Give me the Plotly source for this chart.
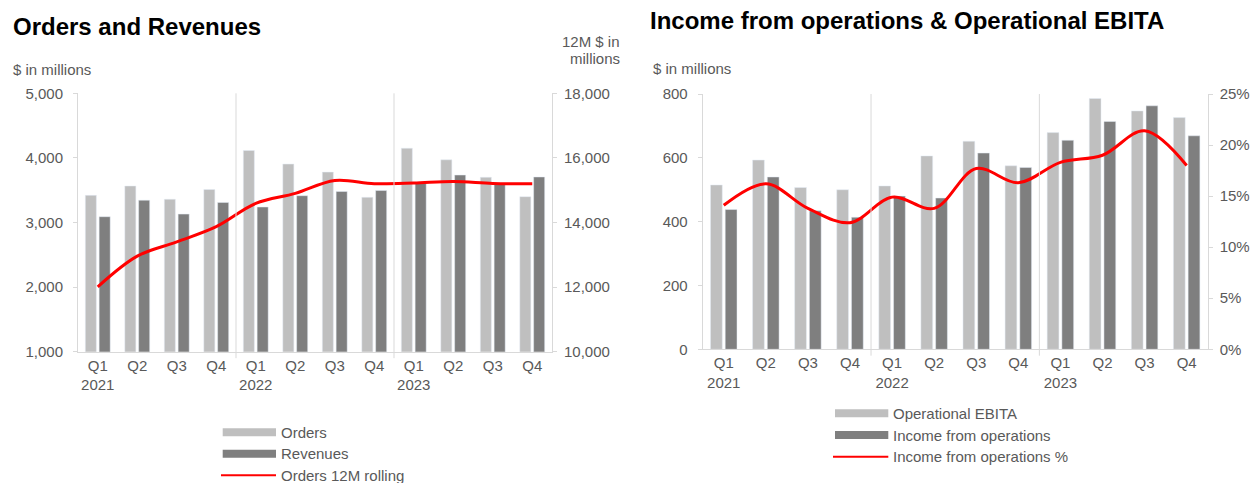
import plotly.graph_objects as go

# ---- data ($ in millions) ----
periods = ["2021 Q1", "2021 Q2", "2021 Q3", "2021 Q4",
           "2022 Q1", "2022 Q2", "2022 Q3", "2022 Q4",
           "2023 Q1", "2023 Q2", "2023 Q3", "2023 Q4"]
tick_labels = ["Q1<br>2021", "Q2", "Q3", "Q4",
               "Q1<br>2022", "Q2", "Q3", "Q4",
               "Q1<br>2023", "Q2", "Q3", "Q4"]

orders = [3420, 3565, 3360, 3510, 4115, 3905, 3780, 3390, 4150, 3970, 3700, 3400]
revenues = [3090, 3345, 3130, 3310, 3240, 3415, 3480, 3495, 3610, 3735, 3610, 3705]
orders_12m_rolling = [12010, 12960, 13400, 13870, 14590, 14900, 15300, 15200, 15220, 15270, 15210, 15200]

operational_ebita = [515, 593, 507, 500, 512, 606, 652, 575, 679, 786, 747, 726]
income_from_ops = [438, 540, 434, 414, 480, 474, 615, 570, 655, 714, 763, 669]
income_from_ops_pct = [14.1, 16.2, 13.8, 12.4, 14.9, 13.8, 17.7, 16.3, 18.3, 19.0, 21.4, 18.0]

# ---- styling ----
W, H = 1252, 483
FONT = "Liberation Sans, Arial, sans-serif"
GREY_TXT = "#595959"
LIGHT = "#bfbfbf"
DARK = "#7f7f7f"
RED = "#ff0000"
AXIS = "#d9d9d9"


def px_x(v):
    return v / W


def px_y(v):
    return 1 - v / H


fig = go.Figure()

# Left panel: orders / revenues
fig.add_trace(go.Bar(x=periods, y=orders, name="Orders", marker_color=LIGHT,
                     xaxis="x", yaxis="y", showlegend=False))
fig.add_trace(go.Bar(x=periods, y=revenues, name="Revenues", marker_color=DARK,
                     xaxis="x", yaxis="y", showlegend=False))
fig.add_trace(go.Scatter(x=periods, y=orders_12m_rolling, name="Orders 12M rolling",
                         mode="lines", line=dict(color=RED, width=3, shape="spline", smoothing=1),
                         xaxis="x", yaxis="y2", showlegend=False))

# Right panel: EBITA / income from operations
fig.add_trace(go.Bar(x=periods, y=operational_ebita, name="Operational EBITA", marker_color=LIGHT,
                     xaxis="x2", yaxis="y3", showlegend=False))
fig.add_trace(go.Bar(x=periods, y=income_from_ops, name="Income from operations", marker_color=DARK,
                     xaxis="x2", yaxis="y3", showlegend=False))
fig.add_trace(go.Scatter(x=periods, y=income_from_ops_pct, name="Income from operations %",
                         mode="lines", line=dict(color=RED, width=3, shape="spline", smoothing=1),
                         xaxis="x2", yaxis="y4", showlegend=False))

tick_font = dict(family=FONT, size=15, color=GREY_TXT)

xaxis_common = dict(type="category", tickmode="array", tickvals=periods, ticktext=tick_labels,
                    showline=True, linecolor=AXIS, linewidth=1, ticks="", showgrid=False,
                    zeroline=False, tickfont=tick_font, automargin=False)
yaxis_common = dict(showline=True, linecolor=AXIS, linewidth=1, ticks="outside", ticklen=4,
                    tickcolor=AXIS, showgrid=False, zeroline=False, tickfont=tick_font,
                    automargin=False)
left_side = dict(yaxis_common, ticklabelstandoff=7)
right_side = dict(yaxis_common, ticklabelstandoff=4, side="right")

left_y = [px_y(351.7), px_y(93.3)]
right_y = [px_y(349.3), px_y(94)]

fig.update_layout(
    width=W, height=H,
    margin=dict(l=0, r=0, t=0, b=0),
    paper_bgcolor="white", plot_bgcolor="white",
    barmode="group", bargap=0.3, bargroupgap=0.2,
    font=dict(family=FONT, color=GREY_TXT),
    xaxis=dict(xaxis_common, domain=[px_x(78), px_x(552)], anchor="y"),
    yaxis=dict(left_side, domain=left_y, range=[1000, 5000], dtick=1000,
               tickformat=",", anchor="x"),
    yaxis2=dict(right_side, overlaying="y", range=[10000, 18000],
                dtick=2000, tickformat=",", anchor="x"),
    xaxis2=dict(xaxis_common, domain=[px_x(702.7), px_x(1207.7)], anchor="y3"),
    yaxis3=dict(left_side, domain=right_y, range=[0, 800], dtick=200, anchor="x2"),
    yaxis4=dict(right_side, overlaying="y3", range=[0, 25], dtick=5,
                ticksuffix="%", anchor="x2"),
)

# Year separators
shapes = []
for xa, ya in (("x", "y"), ("x2", "y3")):
    for pos in (3.5, 7.5):
        shapes.append(dict(type="line", xref=xa, yref=f"{ya} domain", x0=pos, x1=pos,
                           y0=-0.025, y1=1, line=dict(color=AXIS, width=1)))

annotations = []


def text(x, y, s, size=15, color=GREY_TXT, bold=False, xanchor="left", align="left"):
    annotations.append(dict(x=px_x(x), y=px_y(y), xref="paper", yref="paper", text=s,
                            showarrow=False, xanchor=xanchor, yanchor="middle", align=align,
                            font=dict(family=FONT, size=size, color=color,
                                      weight="bold" if bold else "normal")))


# Titles and axis captions
text(11, 27, "Orders and Revenues", size=24, color="black", bold=True)
text(11, 70, "$ in millions")
text(622, 42, "12M $ in", xanchor="right", align="right")
text(622, 59, "millions", xanchor="right", align="right")
text(648, 21, "Income from operations & Operational EBITA", size=24, color="black", bold=True)
text(651, 69, "$ in millions")


# Legends
def legend_row(x0, x1, y, label, kind, color, text_x):
    if kind == "bar":
        shapes.append(dict(type="rect", xref="paper", yref="paper",
                           x0=px_x(x0), x1=px_x(x1), y0=px_y(y + 4), y1=px_y(y - 4),
                           fillcolor=color, line=dict(width=0)))
    else:
        shapes.append(dict(type="line", xref="paper", yref="paper",
                           x0=px_x(x0), x1=px_x(x1), y0=px_y(y), y1=px_y(y),
                           line=dict(color=color, width=2)))
    text(text_x, y, label)


legend_row(222.7, 276, 432.3, "Orders", "bar", LIGHT, 279)
legend_row(222.7, 276, 453.7, "Revenues", "bar", DARK, 279)
legend_row(221, 276, 475.3, "Orders 12M rolling", "line", RED, 279)

legend_row(835, 888.3, 413.3, "Operational EBITA", "bar", LIGHT, 891)
legend_row(835, 888.3, 435, "Income from operations", "bar", DARK, 891)
legend_row(833, 888.3, 456.7, "Income from operations %", "line", RED, 891)

fig.update_layout(shapes=shapes, annotations=annotations)

# page without default body margin so the figure sits flush in the window
fig.write_html("out.html",
               post_script="document.body.style.margin='0';"
                           "document.body.style.overflow='hidden';")
